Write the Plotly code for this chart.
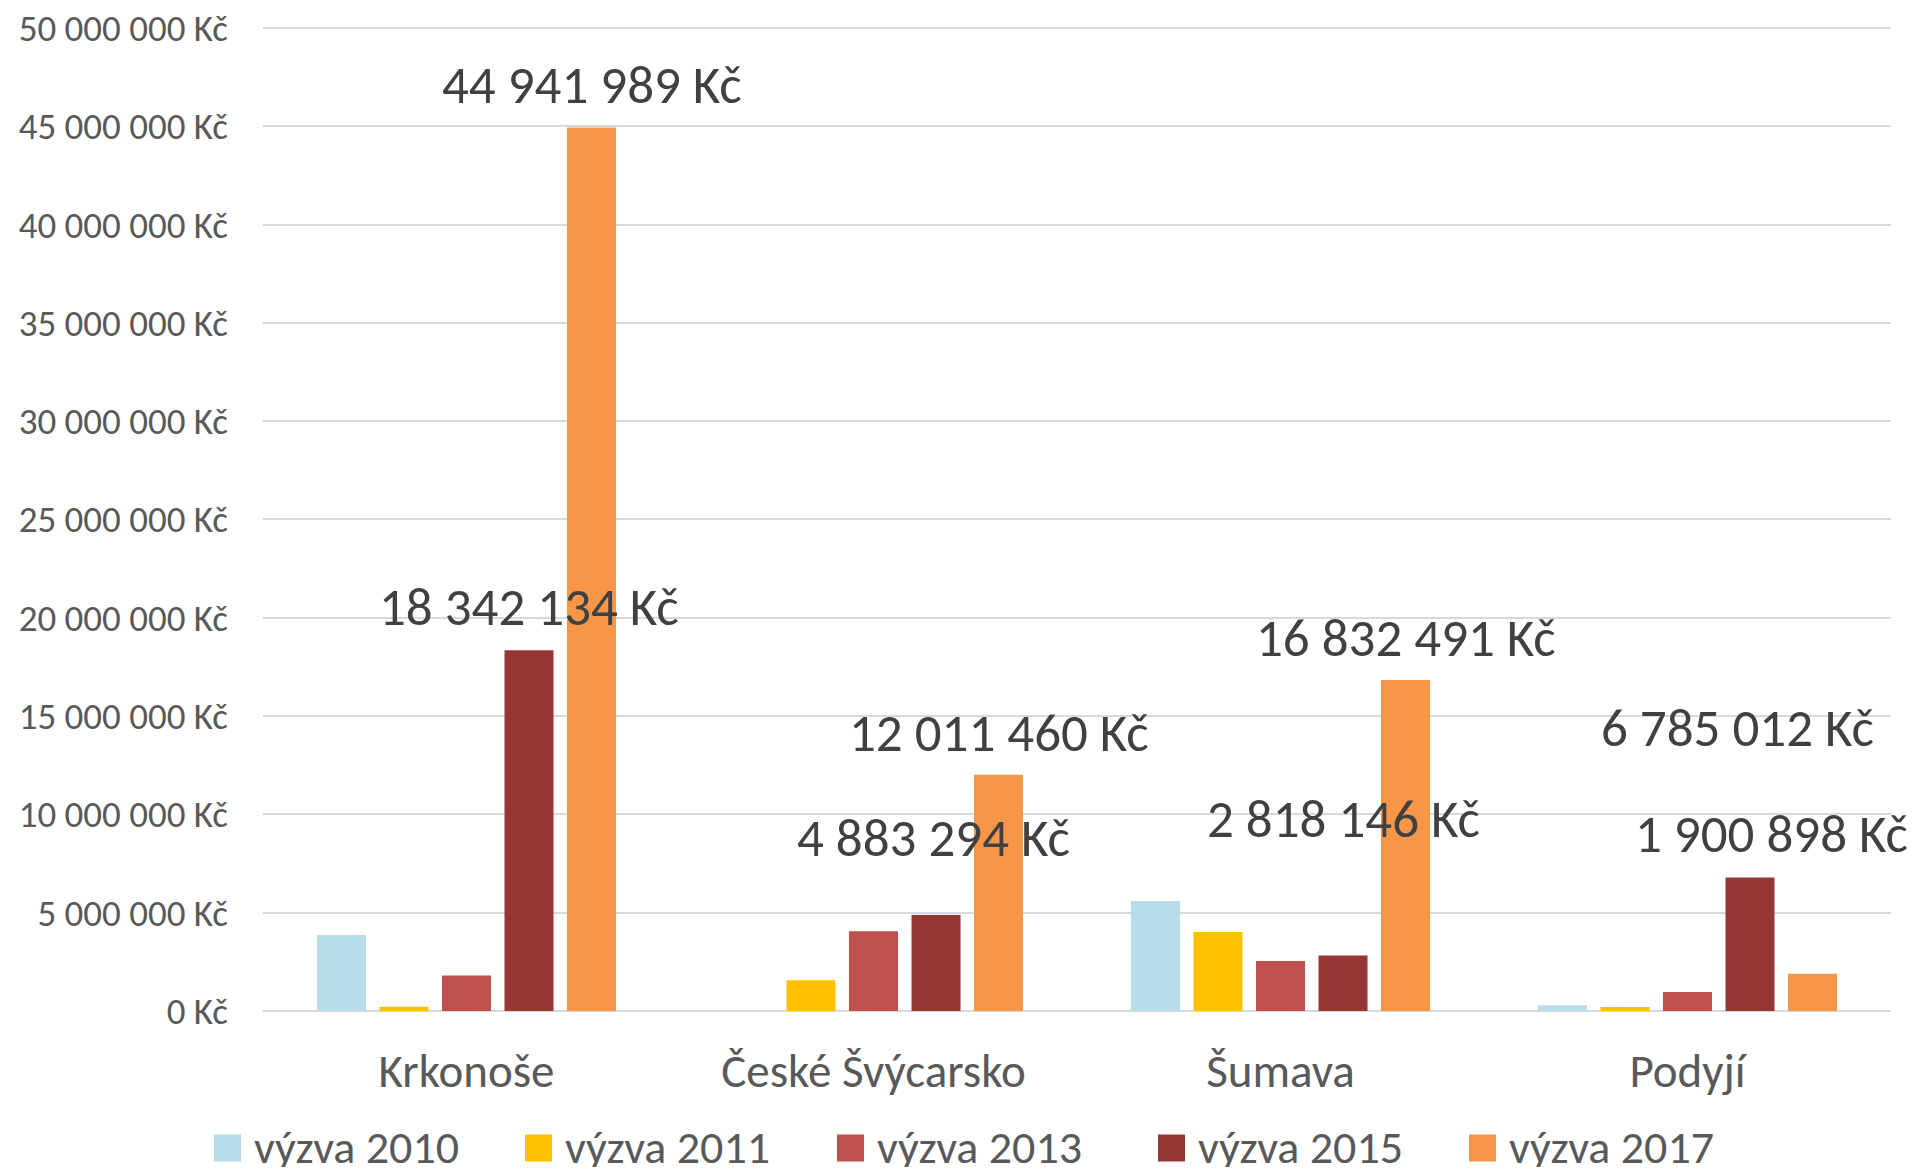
import plotly.graph_objects as go

# ---------------- data ----------------
categories = ["Krkonoše", "České Švýcarsko", "Šumava", "Podyjí"]
series_names = ["výzva 2010", "výzva 2011", "výzva 2013", "výzva 2015", "výzva 2017"]
v2010 = [3860000, 0, 5590000, 290000]
v2011 = [220000, 1560000, 4020000, 200000]
v2013 = [1800000, 4050000, 2540000, 970000]
v2015 = [18342134, 4883294, 2818146, 6785012]
v2017 = [44941989, 12011460, 16832491, 1900898]
y_tick_values = [0, 5000000, 10000000, 15000000, 20000000, 25000000,
                 30000000, 35000000, 40000000, 45000000, 50000000]

series_values = [v2010, v2011, v2013, v2015, v2017]
labelled_series = [3, 4]  # indices of series that carry value labels

# ---------------- styles / layout ----------------
colors = ["#B7DEE8", "#FFC000", "#C0504D", "#953735", "#F79646"]
FONT = "Carlito, Calibri, Lato, sans-serif"
W, H = 1915, 1176
Y_MAX = 50000000
Y_TOP = 50200000           # small headroom so the top gridline is drawn
PX_ZERO, PX_TOP_TICK = 1011, 27.5
px_per_unit = (PX_ZERO - PX_TOP_TICK) / Y_MAX
ML, MR = 263, 24
MB = H - PX_ZERO
MT = round(PX_ZERO - Y_TOP * px_per_unit)
BARGAP = 0.232
BARGROUPGAP = 0.216

# manual label offsets (pixels) per labelled series, per category: (dx, dy of centre above bar top)
label_offsets = {
    3: [(0, 43), (-3, 77), (0, 137), (-13, 150)],
    4: [(0, 42), (0, 42), (0, 42), (-41, 140)],
}

# legend positions (pixel x of square's left edge), y centre in pixels
legend_x_px = [214, 525, 837, 1158, 1469]
legend_y_px = 1147
LEG_SQ = 27


def fmt(v):
    return f"{int(v):,}".replace(",", " ") + " Kč"


plot_w = W - ML - MR
plot_h = H - MT - MB

fig = go.Figure()
for name, vals, col in zip(series_names, series_values, colors):
    fig.add_trace(go.Bar(
        name=name, x=categories, y=vals,
        marker=dict(color=col, line=dict(width=0)),
        showlegend=False, hoverinfo="skip",
    ))

slot = (1 - BARGAP) / len(series_names)
annotations = []
for k in labelled_series:
    for ci, val in enumerate(series_values[k]):
        dx, dy = label_offsets[k][ci]
        annotations.append(dict(
            x=ci + (k - (len(series_names) - 1) / 2) * slot, xref="x",
            y=val, yref="y",
            text=fmt(val), showarrow=False,
            xanchor="center", yanchor="middle",
            xshift=dx, yshift=dy,
            font=dict(family=FONT, size=53, color="#404040"),
        ))

# manual legend
shapes = []
leg_y_paper = (H - MB - legend_y_px) / plot_h
for name, col, px in zip(series_names, colors, legend_x_px):
    xp = (px - ML) / plot_w
    shapes.append(dict(
        type="rect", xref="paper", yref="paper",
        xsizemode="pixel", ysizemode="pixel",
        xanchor=xp, yanchor=leg_y_paper,
        x0=0, x1=LEG_SQ, y0=-LEG_SQ / 2 - 1, y1=LEG_SQ / 2 - 1,
        fillcolor=col, line=dict(width=0),
    ))
    annotations.append(dict(
        x=(px + LEG_SQ + 11 - ML) / plot_w, xref="paper",
        y=leg_y_paper, yref="paper",
        text=name, showarrow=False, height=40,
        xanchor="left", yanchor="middle",
        font=dict(family=FONT, size=46, color="#595959"),
    ))

fig.update_layout(
    width=W, height=H, autosize=False,
    margin=dict(l=ML, r=MR, t=MT, b=MB, pad=0, autoexpand=False),
    paper_bgcolor="white", plot_bgcolor="white",
    barmode="group", bargap=BARGAP, bargroupgap=BARGROUPGAP,
    showlegend=False,
    annotations=annotations, shapes=shapes,
    font=dict(family=FONT, color="#595959"),
)
fig.update_xaxes(
    type="category", range=[-0.5, len(categories) - 0.5], automargin=False,
    showgrid=False, showline=False, zeroline=False, ticks="",
    tickfont=dict(family=FONT, size=47, color="#595959"),
    ticklabelstandoff=28,
)
fig.update_yaxes(
    range=[0, Y_TOP], automargin=False,
    tickvals=y_tick_values, ticktext=[fmt(v) for v in y_tick_values],
    showgrid=True, gridcolor="#D9D9D9", gridwidth=2,
    zeroline=True, zerolinecolor="#D9D9D9", zerolinewidth=2,
    showline=False, ticks="",
    tickfont=dict(family=FONT, size=37, color="#595959"),
    ticklabelstandoff=34,
)

fig.write_html(
    "out.html",
    config={"displayModeBar": False, "responsive": False},
    post_script="document.body.style.margin='0';document.body.style.padding='0';",
)
